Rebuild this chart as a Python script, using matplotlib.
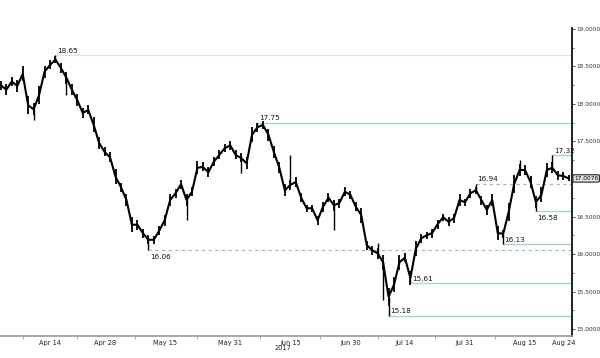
"""
USD/MXN daily chart, Apr - Aug 2017, with support / resistance levels.
"""

import matplotlib
matplotlib.use("Agg")

import matplotlib.pyplot as plt
import numpy as np
from matplotlib.ticker import FixedLocator, MultipleLocator, FuncFormatter

START = "2017-04-03"

# daily closes, one per business day from START
close = [18.25, 18.19, 18.30, 18.24, 18.40, 17.98, 17.93, 18.12, 18.43, 18.52,
         18.59, 18.48, 18.35, 18.19, 18.05, 17.88, 17.92, 17.72, 17.48, 17.36,
         17.29, 17.03, 16.89, 16.72, 16.39, 16.39, 16.28, 16.19, 16.19, 16.31,
         16.45, 16.72, 16.81, 16.93, 16.72, 16.83, 17.15, 17.16, 17.09, 17.23,
         17.32, 17.41, 17.45, 17.32, 17.28, 17.21, 17.59, 17.69, 17.72, 17.59,
         17.36, 17.15, 16.85, 16.92, 16.96, 16.75, 16.61, 16.61, 16.45, 16.63,
         16.75, 16.65, 16.68, 16.83, 16.79, 16.63, 16.52, 16.12, 16.05, 16.01,
         15.89, 15.43, 15.59, 15.89, 15.95, 15.68, 16.07, 16.21, 16.25, 16.28,
         16.40, 16.49, 16.43, 16.48, 16.72, 16.69, 16.81, 16.85, 16.72, 16.59,
         16.72, 16.28, 16.27, 16.56, 16.93, 17.12, 17.12, 16.96, 16.69, 16.79,
         17.12, 17.15, 17.05, 17.04, 17.0076]

# rough half-range of each day's trading
day_range = [0.06, 0.07, 0.06, 0.08, 0.10, 0.12, 0.08, 0.12, 0.08, 0.06,
             0.05, 0.07, 0.08, 0.07, 0.08, 0.07, 0.06, 0.10, 0.08, 0.06,
             0.07, 0.10, 0.06, 0.08, 0.10, 0.07, 0.06, 0.06, 0.05, 0.06,
             0.07, 0.08, 0.06, 0.06, 0.08, 0.06, 0.09, 0.06, 0.07, 0.06,
             0.06, 0.05, 0.06, 0.06, 0.06, 0.08, 0.10, 0.06, 0.05, 0.08,
             0.08, 0.07, 0.08, 0.06, 0.07, 0.06, 0.05, 0.05, 0.06, 0.07,
             0.06, 0.07, 0.06, 0.06, 0.05, 0.06, 0.10, 0.06, 0.06, 0.07,
             0.10, 0.12, 0.10, 0.10, 0.06, 0.09, 0.10, 0.06, 0.05, 0.06,
             0.06, 0.05, 0.06, 0.06, 0.08, 0.05, 0.06, 0.05, 0.06, 0.07,
             0.08, 0.09, 0.05, 0.12, 0.12, 0.08, 0.07, 0.08, 0.08, 0.10,
             0.09, 0.07, 0.06, 0.05, 0.04]

# intraday extremes (spikes) on a few days
wick_days = [6, 10, 12, 27, 34, 44, 47, 53, 61, 69, 70, 71, 75, 87, 92, 95, 98, 101]
wick_ext = [17.79, 18.65, 18.12, 16.06, 16.45, 17.08, 17.75, 17.32, 16.32,
            16.15, 15.39, 15.18, 15.61, 16.94, 16.13, 17.25, 16.58, 17.32]

# marked levels
level_values = [18.65, 17.75, 17.32, 16.94, 16.58, 16.13, 16.06, 15.61, 15.18]
level_days = [10, 47, 101, 87, 98, 92, 27, 75, 71]

tick_dates = ["2017-04-14", "2017-04-28", "2017-05-15", "2017-05-31", "2017-06-15",
              "2017-06-30", "2017-07-14", "2017-07-31", "2017-08-15", "2017-08-24"]
tick_labels = ["Apr 14", "Apr 28", "May 15", "May 31", "Jun 15",
               "Jun 30", "Jul 14", "Jul 31", "Aug 15", "Aug 24"]

LEVEL_GREEN = "#a3dbc5"
LEVEL_DASH = "#86c7b2"
LEVEL_FAINT = "#d9e9e3"
DASHED = {16.94, 16.06}
BELOW = {16.58, 16.06}


def main():
    plt.rcParams["font.family"] = ["DejaVu Sans"]
    fig = plt.figure(figsize=(6.0, 3.58), dpi=100)
    ax = fig.add_axes([0.0, 22 / 358, 572 / 600, 308 / 358])

    x = np.arange(len(close))
    c = np.array(close)
    r = np.array(day_range)
    ax.plot(x, c, color="black", lw=1.5, solid_joinstyle="miter", zorder=4)
    ax.vlines(x, c - r, c + r, color="black", lw=1.3, zorder=4)
    for d, ext in zip(wick_days, wick_ext):
        ax.vlines(d, min(close[d], ext), max(close[d], ext), color="black", lw=1.0, zorder=4)

    xmax = 104.6
    for val, d in zip(level_values, level_days):
        if val == 18.65:
            color, ls, lw = LEVEL_FAINT, "-", 0.9
        elif val in DASHED:
            color, ls, lw = LEVEL_DASH, (0, (3, 3)), 0.8
        else:
            color, ls, lw = LEVEL_GREEN, "-", 1.0
        ax.plot([d, xmax], [val, val], color=color, ls=ls, lw=lw, zorder=2)
        dy = -3 if val in BELOW else 1
        va = "top" if val in BELOW else "bottom"
        ax.annotate(f"{val:.2f}", (d, val), xytext=(1, dy), textcoords="offset points",
                    fontsize=5.2, va=va, ha="left", color="#111111", zorder=5)

    ax.set_xlim(-0.16, xmax)
    ax.set_ylim(14.907, 19.013)

    # axes style
    ax.spines["left"].set_visible(False)
    ax.spines["top"].set_visible(False)
    ax.spines["right"].set_color("#222222")
    ax.spines["right"].set_linewidth(1.4)
    ax.spines["bottom"].set_color("#9a9a9a")
    ax.spines["bottom"].set_linewidth(1.2)

    # the last-price tag sits on top of the 17.0000 label, so leave that one blank
    last = close[-1]
    ax.yaxis.tick_right()
    ax.yaxis.set_major_locator(MultipleLocator(0.5))
    ax.yaxis.set_minor_locator(MultipleLocator(0.25))
    ax.yaxis.set_major_formatter(FuncFormatter(lambda v, _: "" if abs(v - last) < 0.1 else f"{v:.4f}"))
    ax.tick_params(axis="y", which="major", length=2.5, width=0.6, pad=1,
                   labelsize=4.2, colors="#333333")
    ax.tick_params(axis="y", which="minor", length=1.5, width=0.5, colors="#333333")

    tick_pos = [np.busday_count(START, d) for d in tick_dates]
    sep = [tick_pos[0] - 5] + [(a + b) / 2 for a, b in zip(tick_pos[:-2], tick_pos[1:-1])]
    ax.xaxis.set_major_locator(FixedLocator(tick_pos))
    ax.xaxis.set_minor_locator(FixedLocator(sep))
    ax.set_xticklabels(tick_labels)
    ax.tick_params(axis="x", which="major", length=0, pad=3, labelsize=4.8, colors="#222222")
    ax.tick_params(axis="x", which="minor", length=2, width=0.6, color="#9a9a9a")
    ax.text(np.busday_count(START, "2017-06-15") - 1.3, -0.03, "2017", transform=ax.get_xaxis_transform(),
            fontsize=4.8, ha="center", va="top", color="#222222")

    # last price tag
    ax.annotate(f"{last:.4f}", (1.0, last), xycoords=("axes fraction", "data"),
                xytext=(1.5, 0), textcoords="offset points", fontsize=4.2, va="center", ha="left",
                color="black", annotation_clip=False, zorder=6,
                bbox=dict(boxstyle="round,pad=0.2", fc="#e6e6e6", ec="#222222", lw=0.8))

    fig.savefig("out.png", dpi=100)
    plt.close(fig)


if __name__ == "__main__":
    main()
